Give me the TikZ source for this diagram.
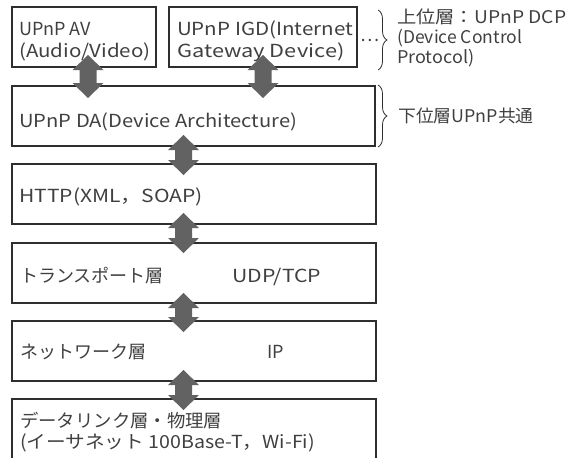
\documentclass[tikz,border=0pt]{standalone}
\usepackage{fontspec}
\usepackage{graphicx}
\setmainfont{Noto Sans CJK JP}
\usetikzlibrary{calc,decorations.pathreplacing}
\definecolor{ink}{HTML}{2E2E2E}
\definecolor{txtc}{HTML}{404040}
\definecolor{arrowgray}{HTML}{626262}
\newcommand{\hs}[2]{\scalebox{#1}[1]{#2}}
\begin{document}
\begin{tikzpicture}[x=1pt,y=-1pt,
  box/.style={draw=ink, line width=1.5pt, inner sep=0pt, outer sep=0pt, anchor=north west},
  txt/.style={text=txtc, font=\fontsize{18}{22}\selectfont, inner sep=0pt, anchor=base west},
  side/.style={text=txtc, font=\fontsize{17.5}{20}\selectfont, inner sep=0pt, anchor=base west},
  brc/.style={draw=ink, line width=0.8pt, decorate, decoration={brace, amplitude=9pt, aspect=0.5}},
  dblarr/.style={to path={
    let \p1=(\tikztostart), \p2=(\tikztotarget) in
    (\x1,\y1) -- (\x1+15.5pt,\y1-15pt) -- (\x1+8.5pt,\y1-15pt) -- (\x2+8.5pt,\y2+15pt)
    -- (\x2+15.5pt,\y2+15pt) -- (\x2,\y2) -- (\x2-15.5pt,\y2+15pt) -- (\x2-8.5pt,\y2+15pt)
    -- (\x1-8.5pt,\y1-15pt) -- (\x1-15.5pt,\y1-15pt) -- cycle}}
]
\useasboundingbox (0,0) rectangle (568,458);

% boxes
\node[box, minimum width=144pt, minimum height=60pt] (av)  at (12,7) {};
\node[box, minimum width=188pt, minimum height=60pt] (igd) at (169,7) {};
\node[box, minimum width=363pt, minimum height=60pt] (da)  at (12,86) {};
\node[box, minimum width=364pt, minimum height=60pt] (http) at (12,164) {};
\node[box, minimum width=364pt, minimum height=60pt] (tr)  at (12,243) {};
\node[box, minimum width=364pt, minimum height=60pt] (net) at (12,321) {};
\node[box, minimum width=364pt, minimum height=80pt] (dl)  at (12,399) {};

% texts
\node[txt] (t1) at (19,35) {UPnP AV};
\node[txt] (t2) at (19,57) {\hs{1.14}{(Audio/Video)}};
\node[txt] (t3) at (177,35) {\hs{1.14}{UPnP IGD(Internet}};
\node[txt] (t4) at (177,57) {\hs{1.21}{Gateway Device)}};
\node[txt, anchor=center] (dots) at (370,40) {…};
\node[side] (t5) at (397,23) {\hs{1.1}{上位層：UPnP DCP}};
\node[side] (t6) at (397,43) {(Device Control};
\node[side] (t7) at (397,63) {\hs{1.03}{Protocol)}};
\node[side] (t9) at (398,122) {\hs{1.02}{下位層UPnP共通}};
\node[txt] (t8) at (19,127) {\hs{1.12}{UPnP DA(Device Architecture)}};
\node[txt] (t10) at (19,202) {\hs{1.17}{HTTP(XML，SOAP)}};
\node[txt] (t11) at (20,282) {トランスポート層};
\node[txt] (t12) at (232,282) {\hs{1.18}{UDP/TCP}};
\node[txt] (t13) at (20,358) {ネットワーク層};
\node[txt] (t14) at (267,358) {IP};
\node[txt] (t15) at (20,427) {\hs{1.02}{データリンク層・物理層}};
\node[txt] (t16) at (20,448) {\hs{1.09}{(イーサネット 100Base-T，Wi-Fi)}};

% braces
\coordinate (b1s) at ([xshift=21pt,yshift=-3pt]igd.north east);
\coordinate (b1e) at ([xshift=21pt,yshift=-3pt]igd.south east);
\draw[brc] (b1s) -- (b1e);
\coordinate (b2s) at ([xshift=3pt,yshift=1pt]da.north east);
\coordinate (b2e) at ([xshift=3pt,yshift=-1pt]da.south east);
\draw[brc] (b2s) -- (b2e);

% arrows
\fill[arrowgray] ([xshift=4pt,yshift=12pt]av.south) to[dblarr] ([xshift=-105.5pt,yshift=-12pt]da.north);
\fill[arrowgray] ([xshift=0pt,yshift=12pt]igd.south) to[dblarr] ([xshift=69.5pt,yshift=-12pt]da.north);
\fill[arrowgray] ([xshift=-10pt,yshift=11pt]da.south) to[dblarr] ([xshift=-10.5pt,yshift=-11pt]http.north);
\fill[arrowgray] ([xshift=-10.5pt,yshift=11pt]http.south) to[dblarr] ([xshift=-10.5pt,yshift=-10pt]tr.north);
\fill[arrowgray] ([xshift=-10.5pt,yshift=10pt]tr.south) to[dblarr] ([xshift=-10.5pt,yshift=-11pt]net.north);
\fill[arrowgray] ([xshift=-10.5pt,yshift=11pt]net.south) to[dblarr] ([xshift=-10.5pt,yshift=-11pt]dl.north);
\end{tikzpicture}
\end{document}
